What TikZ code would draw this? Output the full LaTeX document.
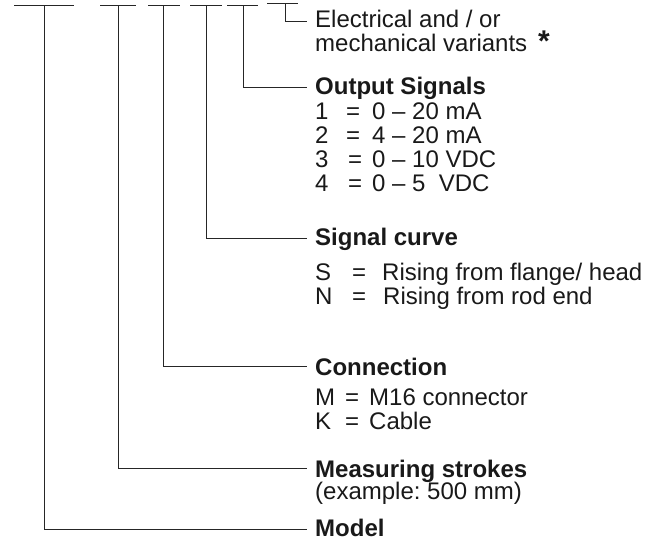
\documentclass[tikz,border=0pt]{standalone}
\usepackage{fontspec}
\setmainfont{Liberation Sans}
\frenchspacing
\begin{document}
\begin{tikzpicture}[x=1pt,y=-1pt,
  ln/.style={line width=1pt,draw=black!85},
  lbl/.style={anchor=base west,inner sep=0pt,font=\fontsize{24}{24}\selectfont,text=black!90},
  hd/.style={lbl,font=\fontsize{24}{24}\selectfont\bfseries}]
\useasboundingbox (0,0) rectangle (662,540);
% bars: name / left / right / vertical x / bottom y
\foreach \n/\l/\r/\v/\b in {1/14/74/44/529, 2/100/136/118/468, 3/148/180/163/367, 4/190/222/206/239, 5/227/258/243/88}{
  \coordinate (b\n l) at (\l,6);
  \coordinate (b\n r) at (\r,6);
  \coordinate (b\n t) at (\v,6);
  \coordinate (b\n c) at (\v,\b);
  \coordinate (b\n e) at (307,\b);
  \draw[ln] (b\n l) -- (b\n r);
  \draw[ln] (b\n t) -- (b\n c) -- (b\n e);
}
\coordinate (b6l) at (267,4); \coordinate (b6r) at (298,4);
\coordinate (b6t) at (285,4); \coordinate (b6c) at (285,22); \coordinate (b6e) at (307,22);
\draw[ln] (b6l) -- (b6r);
\draw[ln] (b6t) -- (b6c) -- (b6e);
% texts
\node[lbl] (ev1) at (315,28) {Electrical and / or};
\node[lbl] (ev2) at (315,52) {mechanical variants};
\node[hd,font=\fontsize{30}{30}\selectfont\bfseries] (ast) at (538,52) {*};
\node[hd] (os) at (315,95) {Output Signals};
\foreach \k/\y/\e/\v in {1/120/346/0 – 20 mA, 2/144/346/4 – 20 mA, 3/168/348/0 – 10 VDC, 4/192/348/0 – 5\ \ VDC}{
  \node[lbl] (o\k k) at (315,\y) {\k};
  \node[lbl] (o\k e) at (\e,\y) {=};
  \node[lbl] (o\k v) at (372,\y) {\v};
}
\node[hd] (sc) at (315,246) {Signal curve};
\node[lbl] (sk) at (315,281) {S};
\node[lbl] (se) at (352,281) {=};
\node[lbl] (sv) at (382,281) {Rising from flange/ head};
\node[lbl] (nk) at (315,305) {N};
\node[lbl] (ne) at (352,305) {=};
\node[lbl] (nv) at (383,305) {Rising from rod end};
\node[hd] (cn) at (315,375) {Connection};
\node[lbl] (mk) at (315,405) {M};
\node[lbl] (me) at (345,405) {=};
\node[lbl] (mv) at (369,405) {M16 connector};
\node[lbl] (kk) at (315,429) {K};
\node[lbl] (ke) at (345,429) {=};
\node[lbl] (kv) at (369,429) {Cable};
\node[hd] (ms) at (315,477) {Measuring strokes};
\node[lbl] (ex) at (315,499) {(example: 500 mm)};
\node[hd] (md) at (315,536) {Model};
\end{tikzpicture}
\end{document}
